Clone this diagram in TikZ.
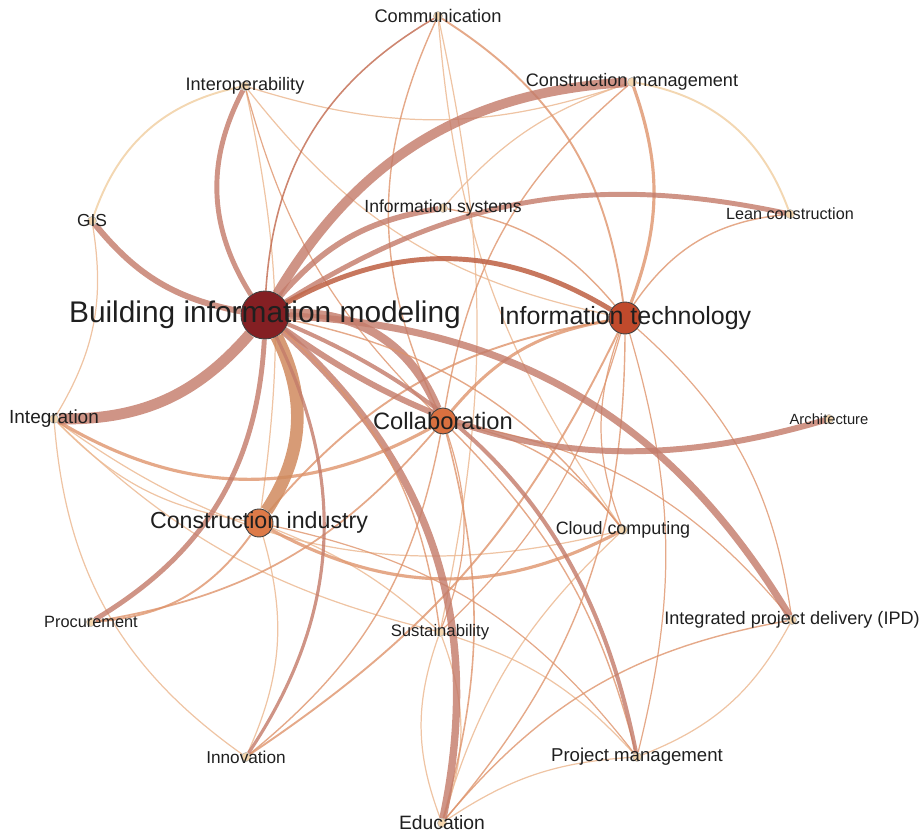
\documentclass[tikz,border=0pt]{standalone}
\usepackage{fontspec}
\setmainfont{Liberation Sans}
\usepackage{xcolor}

\definecolor{bimred}{HTML}{841F23}
\definecolor{itred}{HTML}{C04A2C}
\definecolor{colorange}{HTML}{D9703F}
\definecolor{ciorange}{HTML}{DD7A48}
\definecolor{minorfill}{HTML}{F4D6AE}
\definecolor{bimlink}{HTML}{C47C6B}
\definecolor{cilink}{HTML}{D08A5E}
\definecolor{itlink}{HTML}{C1684C}
\definecolor{orlink}{HTML}{DE946C}
\definecolor{palelink}{HTML}{ECBA94}
\definecolor{tanlink}{HTML}{F3D7B2}

\pgfdeclarelayer{links}
\pgfsetlayers{links,main}

\tikzset{
  kw/.style={circle,draw=black!75,line width=0.5pt,inner sep=0pt,minimum size=#1},
  minor/.style={circle,draw=black!30,line width=0.3pt,fill=minorfill,inner sep=0pt,minimum size=0.18cm},
  lbl/.style={font=\fontsize{#1}{#1}\selectfont,text=black!88,inner sep=0pt},
  bimlk/.style={draw=bimlink,opacity=.82},
  orlk/.style={draw=orlink,opacity=.8},
  palelk/.style={draw=palelink,opacity=.85,line width=0.7pt},
}

\begin{document}
\begin{tikzpicture}[x=0.02cm,y=0.02cm]
\useasboundingbox (0,0) rectangle (921,835);

% keywords
\node[kw=0.96cm,fill=bimred,label={[lbl=17]center:Building information modeling}] (bim) at (265,520) {};
\node[kw=0.64cm,fill=itred,label={[lbl=14.2]center:Information technology}] (it) at (625,517) {};
\node[kw=0.52cm,fill=colorange,label={[lbl=13.5]center:Collaboration}] (collab) at (443,414) {};
\node[kw=0.56cm,fill=ciorange,label={[lbl=13.2]center:Construction industry}] (ci) at (259,312) {};

\node[minor,label={[lbl=10.4]center:Communication}] (comm) at (438,819) {};
\node[minor,label={[lbl=10.3]center:Construction management}] (cm) at (632,753) {};
\node[minor,label={[lbl=10.3]center:Interoperability}] (interop) at (245,749) {};
\node[minor,label={[lbl=9.9]center:GIS}] (gis) at (92,614) {};
\node[minor,label={[lbl=10]center:Information systems}] (infosys) at (443,627) {};
\node[minor,label={[lbl=9.2]center:Lean construction}] (lean) at (790,621) {};
\node[minor,label={[lbl=10.8]center:Integration}] (integ) at (54,416) {};
\node[minor,label={[lbl=8.4]center:Architecture}] (arch) at (829,416) {};
\node[minor,label={[lbl=10.2]center:Cloud computing}] (cloud) at (623,305) {};
\node[minor,label={[lbl=9.3]center:Procurement}] (proc) at (91,213) {};
\node[minor,label={[lbl=9.5]center:Sustainability}] (sust) at (440,203) {};
\node[minor,label={[lbl=10.3]center:Integrated project delivery (IPD)}] (ipd) at (792,215) {};
\node[minor,label={[lbl=9.8]center:Innovation}] (innov) at (246,78) {};
\node[minor,label={[lbl=10.6]center:Project management}] (pm) at (637,78) {};
\node[minor,label={[lbl=11]center:Education}] (edu) at (442,12) {};

\begin{pgfonlayer}{links}
% pale links round the rim
\draw[palelk] (sust) to[bend left=15] (integ);
\draw[palelk] (ci) to[bend left=18] (integ);
\draw[palelk] (innov) to[bend left=25] (integ);
\draw[palelk] (gis) to[bend left=20] (integ);
\draw[tanlink,line width=1.1pt] (gis) to[bend left=30] (interop);
\draw[palelk] (cm) to[bend left=18] (interop);
\draw[tanlink,line width=1.1pt] (cm) to[bend left=30] (lean);
\draw[palelk] (edu) to[bend left=15] (pm);
\draw[palelk] (ipd) to[bend left=20] (pm);
\draw[palelk] (sust) to[bend left=15] (pm);
\draw[palelk] (edu) to[bend left=20] (sust);
\draw[palelk] (sust) to[bend left=20] (edu);
\draw[palelk] (cloud) to[bend left=25] (integ);
\draw[palelk] (ci) to[bend left=20] (innov);
\draw[palelk] (it) to[bend left=20] (interop);
\draw[palelk] (infosys) to[bend left=15] (cm);
\draw[palelk] (cloud) to[bend left=15] (comm);
\draw[palelk] (comm) to[bend left=12] (sust);
\draw[palelk] (interop) to[bend left=10] (ci);
\draw[palelk] (ci) to[bend left=10] (sust);
\draw[palelk] (edu) to[bend left=15] (cloud);
% orange links
\draw[orlk,line width=0.8pt] (edu) to[bend left=20] (ipd);
\draw[orlk,line width=0.7pt] (ci) to[bend left=20] (pm);
\draw[orlk,line width=1.1pt] (ci) to[bend left=25] (proc);
\draw[orlk,line width=1.8pt] (cloud) to[bend left=28] (ci);
\draw[orlk,line width=1.8pt] (collab) to[bend left=30] (integ);
\draw[orlk,line width=0.8pt] (collab) to[bend left=20] (cloud);
\draw[orlk,line width=0.8pt] (collab) to[bend left=15] (pm);
\draw[orlk,line width=0.9pt] (collab) to[bend left=15] (edu);
\draw[orlk,line width=0.7pt] (collab) to[bend left=20] (sust);
\draw[orlk,line width=0.7pt] (collab) to[bend left=20] (ipd);
\draw[orlk,line width=0.8pt] (collab) to[bend left=20] (innov);
\draw[orlk,line width=1pt] (collab) to[bend left=20] (proc);
\draw[orlk,line width=0.7pt] (collab) to[bend left=15] (interop);
\draw[orlk,line width=0.8pt] (collab) to[bend left=25] (comm);
\draw[orlk,line width=0.8pt] (collab) to[bend left=20] (cm);
% information technology
\draw[orlk,line width=1.8pt] (cm) to[bend left=20] (it);
\draw[orlk,line width=1.1pt] (comm) to[bend left=25] (it);
\draw[orlk,line width=0.8pt] (infosys) to[bend left=20] (it);
\draw[orlk,line width=0.8pt] (it) to[bend left=25] (lean);
\draw[orlk,line width=1.7pt] (collab) to[bend left=20] (it);
\draw[orlk,line width=1.1pt] (ci) to[bend left=20] (it);
\draw[orlk,line width=0.8pt] (it) to[bend left=20] (edu);
\draw[orlk,line width=0.7pt] (it) to[bend left=15] (pm);
\draw[orlk,line width=0.7pt] (it) to[bend left=20] (ipd);
\draw[orlk,line width=0.7pt] (cloud) to[bend left=20] (it);
\draw[orlk,line width=1.1pt] (it) to[bend left=15] (innov);
\draw[orlk,line width=0.7pt] (it) to[bend left=15] (sust);
% building information modeling
\draw[bimlk,line width=5.5pt] (bim) to[bend left=28] (cm);
\draw[bimlk,line width=6.2pt] (bim) to[bend left=25] (integ);
\draw[cilink,opacity=.85,line width=7.2pt] (bim) to[bend left=30] (ci);
\draw[bimlk,line width=4.8pt] (bim) to[bend left=35] (collab);
\draw[bimlk,line width=4pt] (bim) to[bend left=28] (ipd);
\draw[bimlk,line width=3.4pt] (arch) to[bend left=26] (bim);
\draw[bimlk,line width=4.2pt] (bim) to[bend left=30] (edu);
\draw[bimlk,line width=2.8pt] (bim) to[bend left=22] (lean);
\draw[bimlk,line width=3.2pt] (bim) to[bend left=20] (infosys);
\draw[itlink,opacity=.9,line width=2.8pt] (bim) to[bend left=30] (it);
\draw[bimlk,line width=2.8pt] (bim) to[bend left=30] (interop);
\draw[bimlk,line width=3.4pt] (bim) to[bend left=20] (gis);
\draw[bimlk,line width=2.8pt] (bim) to[bend left=28] (proc);
\draw[bimlk,line width=1.8pt] (bim) to[bend left=30] (innov);
\draw[bimlk,line width=2.3pt] (bim) to[bend left=28] (pm);
\draw[itlink,opacity=.8,line width=0.9pt] (bim) to[bend left=28] (comm);
\draw[orlk,line width=0.8pt] (bim) to[bend left=20] (cloud);
\draw[orlk,line width=0.8pt] (bim) to[bend left=20] (sust);
\end{pgfonlayer}
\end{tikzpicture}
\end{document}
